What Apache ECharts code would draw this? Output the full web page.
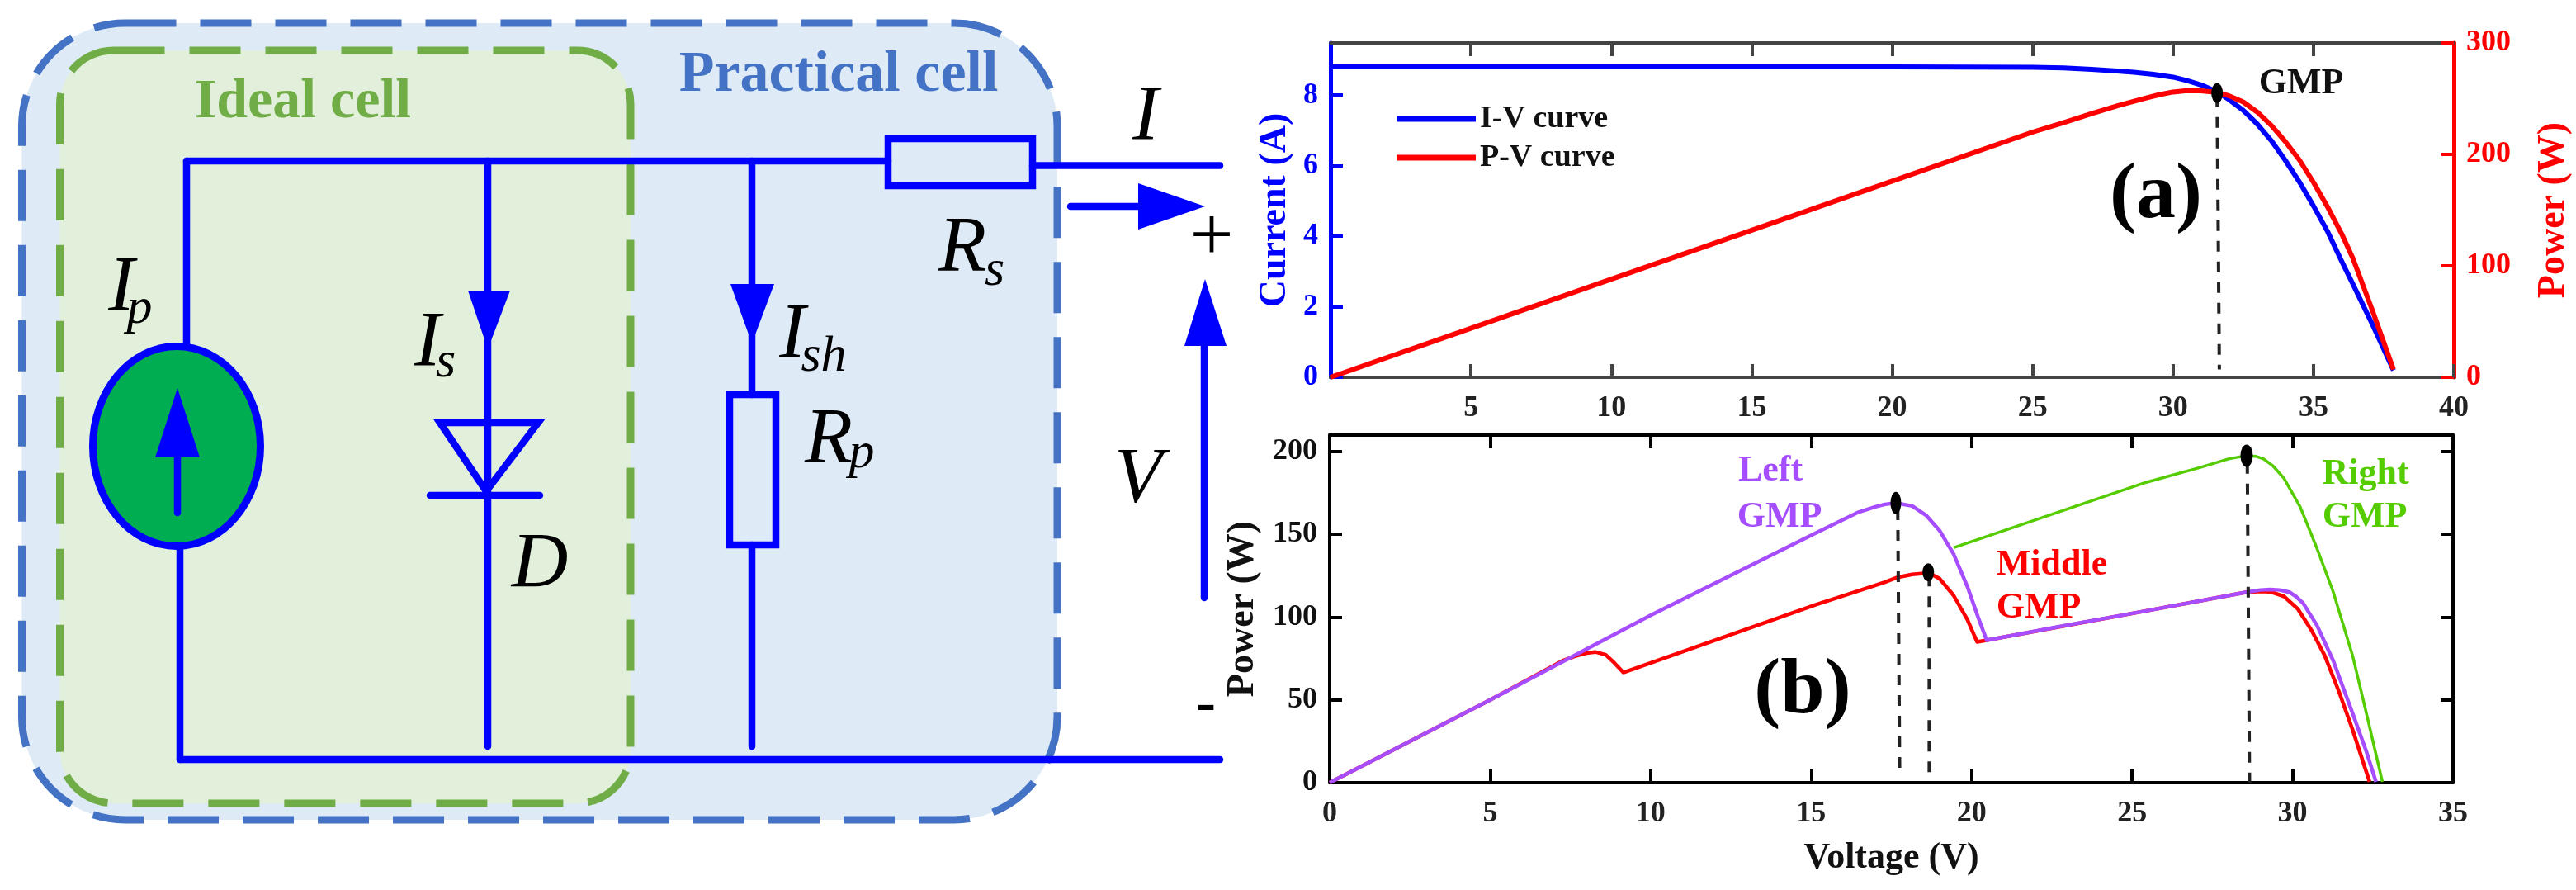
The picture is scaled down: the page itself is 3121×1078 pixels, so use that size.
<!DOCTYPE html>
<html><head><meta charset="utf-8">
<style>html,body{margin:0;padding:0;background:#fff}#c{width:3121px;height:1078px}</style>
<script src="https://cdn.jsdelivr.net/npm/echarts@6/dist/echarts.min.js"></script>
</head><body><div id="c"></div>
<script>
// ---------- data ----------
const xTicksA = [5, 10, 15, 20, 25, 30, 35, 40];
const currentTicks = [0, 2, 4, 6, 8];
const powerTicksA = [0, 100, 200, 300];
const xTicksB = [0, 5, 10, 15, 20, 25, 30, 35];
const powerTicksB = [0, 50, 100, 150, 200];

const ivVoltage = [0, 10, 20, 25, 26.1, 27.1, 27.9, 28.6, 29.3, 30, 30.5, 31, 31.6, 32, 32.5, 33, 33.5, 34, 34.5, 35, 35.5, 36, 36.4, 37.1, 37.85];
const ivCurrent = [8.8, 8.8, 8.8, 8.79, 8.77, 8.73, 8.69, 8.65, 8.59, 8.51, 8.41, 8.29, 8.08, 7.87, 7.57, 7.18, 6.71, 6.15, 5.54, 4.86, 4.14, 3.3, 2.65, 1.5, 0.2];
const pvVoltage = [0, 5, 10, 15, 20, 25, 26.1, 27.1, 28.07, 29.05, 29.5, 30, 30.5, 31, 31.6, 32, 32.5, 33, 33.5, 34, 34.5, 35, 35.5, 36, 36.4, 37.1, 37.85];
const pvPower = [0, 44, 88, 132, 176, 220, 228.5, 236.5, 244, 250.6, 253.5, 256, 257.3, 257, 255.5, 252.5, 247, 238, 226, 211.5, 195, 175, 153, 129, 107, 60, 7];
const gmpA = [31.57, 255];
const gmpDropA = [[31.57, 252], [31.65, 7]];

const leftV = [0, 5, 10, 15.15, 16.44, 17, 17.3, 17.64, 18.15, 18.58, 19, 19.44, 19.87, 20.2, 20.47, 22.87, 25.44, 28.57, 29, 29.3, 29.6, 29.9, 30.1, 30.33, 30.76, 31.27, 31.87, 32.3, 32.6];
const leftP = [0, 50, 101, 150.8, 163, 166.5, 168, 168.8, 167, 161.4, 152.3, 138, 118.3, 100, 86, 94.7, 103.7, 115, 116.3, 116.6, 116.3, 115, 112.5, 108.3, 95, 73.5, 42, 18.8, 0.5];
const midV = [0, 5, 7.3, 7.66, 8, 8.28, 8.6, 8.87, 9.15, 15.15, 16.44, 17.3, 17.7, 18.15, 18.67, 19, 19.44, 19.87, 20.17, 20.47, 25.44, 28.57, 29, 29.3, 29.73, 30.16, 30.6, 31, 31.44, 31.87, 32.4];
const midP = [0, 50, 74, 76.4, 78.2, 78.9, 77.2, 72.3, 66.5, 107.5, 115.5, 121, 124, 125.7, 126.6, 123.2, 113, 98.4, 85, 86, 103.7, 115, 115.5, 115.3, 112.5, 105, 91.7, 76.8, 55.3, 32, 0.5];
const rightV = [19.44, 25.44, 27.15, 28, 28.57, 28.85, 29.1, 29.4, 29.73, 30.24, 30.76, 31.27, 31.87, 32.3, 32.8];
const rightP = [141.8, 181.3, 190.4, 195.4, 197.4, 197, 195.4, 191, 183.8, 166.4, 141.5, 115, 76.8, 42, 0.5];
const gmpLeft = [17.64, 168.8];
const gmpMiddle = [18.65, 127];
const gmpRight = [28.57, 197.4];
const dropLeft = [[17.7, 165], [17.76, 3]];
const dropMiddle = [[18.68, 125], [18.68, 3]];
const dropRight = [[28.59, 193], [28.66, -1]];

// ---------- styling ----------
const SERIF = '"Liberation Serif","Times New Roman",serif';
const WIRE = '#0000ff', DARK = '#444444', BLACK = '#000000', RED = '#ff0000';
const PURPLE = '#a64dff', GREEN = '#55cc00';
const zip = (a, b) => a.map((v, i) => [v, b[i]]);

function xAxis(grid, pos, max, ticks, color, showLabels) {
  return {
    type: 'value', gridIndex: grid, position: pos, min: 0, max,
    axisLine: { onZero: false, lineStyle: { color, width: 4 } },
    axisTick: { inside: true, length: 16, customValues: ticks, lineStyle: { color, width: 4 } },
    axisLabel: showLabels
      ? { customValues: ticks, margin: 20, fontFamily: SERIF, fontWeight: 'bold', fontSize: 36, color: '#222' }
      : { show: false },
    splitLine: { show: false }
  };
}
function yAxis(grid, pos, max, ticks, color, showLabels, width, labelColor) {
  return {
    type: 'value', gridIndex: grid, position: pos, min: 0, max,
    axisLine: { show: true, onZero: false, lineStyle: { color, width } },
    axisTick: { show: true, inside: true, length: 15, customValues: ticks, lineStyle: { color, width: 4 } },
    axisLabel: showLabels
      ? { customValues: ticks, margin: 15, fontFamily: SERIF, fontWeight: 'bold', fontSize: 36, color: labelColor || color }
      : { show: false },
    splitLine: { show: false }
  };
}
const nameStyle = (color) => ({ fontFamily: SERIF, fontWeight: 'bold', fontSize: 46, color });

const axisCur = yAxis(0, 'left', 9.48, currentTicks, WIRE, true, 5);
Object.assign(axisCur, { name: 'Current (A)', nameLocation: 'middle', nameRotate: 90, nameGap: 44, nameTextStyle: nameStyle(WIRE) });
const axisPow = yAxis(0, 'right', 300, powerTicksA, RED, true, 5);
Object.assign(axisPow, { name: 'Power (W)', nameLocation: 'middle', nameRotate: 90, nameGap: 98, nameTextStyle: nameStyle(RED) });
const axisPowB = yAxis(1, 'left', 209.8, powerTicksB, BLACK, true, 4, '#111');
Object.assign(axisPowB, { name: 'Power (W)', nameLocation: 'middle', nameRotate: 90, nameGap: 82, nameTextStyle: nameStyle('#111') });
const axisVoltB = xAxis(1, 'bottom', 35, xTicksB, BLACK, true);
Object.assign(axisVoltB, { name: 'Voltage (V)', nameLocation: 'middle', nameGap: 70, nameTextStyle: Object.assign(nameStyle('#111'), { fontSize: 44 }) });

function curve(name, x, y, color, width, xi, yi) {
  return { type: 'line', name, data: zip(x, y), xAxisIndex: xi, yAxisIndex: yi, showSymbol: false, symbol: 'none',
    smooth: false, lineStyle: { color, width, join: 'round' }, itemStyle: { color }, z: 3, silent: true };
}
function drop(points, xi, yi) {
  return { type: 'line', data: points, xAxisIndex: xi, yAxisIndex: yi, symbol: 'none', z: 4, silent: true,
    lineStyle: { color: '#222', width: 4, type: [13, 12] } };
}
function marker(point, size, xi, yi) {
  return { type: 'scatter', data: [point], xAxisIndex: xi, yAxisIndex: yi, symbol: 'circle', symbolSize: size,
    itemStyle: { color: '#000', opacity: 1 }, z: 6, silent: true };
}

// ---------- circuit diagram and free text ----------
const seg = (x1, y1, x2, y2, w) => ({ type: 'line', z: 5, shape: { x1, y1, x2, y2 }, style: { stroke: WIRE, lineWidth: w || 8.5, lineCap: 'round' } });
const tri = (points) => ({ type: 'polygon', z: 6, shape: { points }, style: { fill: WIRE } });
const box = (x, y, width, height) => ({ type: 'rect', z: 5, shape: { x, y, width, height }, style: { fill: 'none', stroke: WIRE, lineWidth: 8.5 } });
const txt = (x, y, text, size, fill, bold, italic) => ({ type: 'text', z: 8, x, y, style: {
  text, fill, align: 'center', verticalAlign: 'middle', fontFamily: SERIF, fontSize: size,
  fontWeight: bold ? 'bold' : 'normal', fontStyle: italic ? 'italic' : 'normal' } });
const it = (x, y, text, size) => txt(x, y, text, size || 95, '#000', false, true);

const graphic = [
  { type: 'rect', z: 1, shape: { x: 26.5, y: 28, width: 1254.5, height: 965, r: 125 }, style: { fill: '#deeaf6', stroke: '#4472c4', lineWidth: 9, lineDash: [62, 29] } },
  { type: 'rect', z: 2, shape: { x: 72.5, y: 61, width: 691.5, height: 912, r: 65 }, style: { fill: '#e2efda', stroke: '#70ad47', lineWidth: 9, lineDash: [62, 30] } },
  txt(367, 124, 'Ideal cell', 68, '#70ad47', true),
  txt(1016, 92, 'Practical cell', 70, '#4472c4', true),
  seg(226, 195, 1076, 195),
  seg(1251, 200.5, 1478, 200.5),
  seg(226, 195, 226, 417),
  seg(218, 663, 218, 920),
  seg(218, 920, 1478, 920),
  box(1076, 168, 175, 57),
  { type: 'ellipse', z: 5, shape: { cx: 214, cy: 540.5, rx: 101.5, ry: 121 }, style: { fill: '#00ad50', stroke: WIRE, lineWidth: 9 } },
  seg(215, 621, 215, 550),
  tri([[215, 470], [188, 554], [242, 554]]),
  seg(591, 195, 591, 904),
  tri([[591, 423], [567, 352], [618, 352]]),
  { type: 'polygon', z: 5, shape: { points: [[533, 512], [652, 512], [589, 595]] }, style: { fill: 'none', stroke: WIRE, lineWidth: 8.5 } },
  seg(521, 600, 654, 600),
  seg(911, 195, 911, 478),
  seg(911, 660, 911, 904),
  tri([[911, 416], [885, 344], [938, 344]]),
  box(884, 478, 56, 182),
  seg(1297, 250, 1385, 250),
  tri([[1460, 250], [1379, 222], [1379, 278]]),
  seg(1459, 724, 1459, 415),
  tri([[1460, 338], [1435, 419], [1486, 419]]),
  txt(1468, 290, '+', 94, '#000', false),
  txt(1461, 855, '-', 72, '#000', true),
  it(147, 351, 'I'), it(169, 375, 'p', 62),
  it(518, 418, 'I'), it(540, 440, 's', 62),
  it(960, 408, 'I'), it(998, 433, 'sh', 62),
  it(1166, 303, 'R'), it(1205, 329, 's', 62),
  it(1004, 535, 'R'), it(1044, 550, 'p', 62),
  it(1379, 583, 'V'), it(654, 686, 'D'), it(1388, 144, 'I'),
  txt(2788, 102, 'GMP', 44, '#111', true),
  txt(2612, 238, '(a)', 96, '#000', true),
  txt(2184, 838, '(b)', 96, '#000', true),
  txt(2145, 571, 'Left', 44, PURPLE, true),
  txt(2156, 627, 'GMP', 44, PURPLE, true),
  txt(2486, 685, 'Middle', 44, RED, true),
  txt(2470, 737, 'GMP', 44, RED, true),
  txt(2866, 575, 'Right', 44, GREEN, true),
  txt(2865, 627, 'GMP', 44, GREEN, true)
];

const chart = echarts.init(document.getElementById('c'), null, { renderer: 'canvas' });
chart.setOption({
  animation: false,
  backgroundColor: '#ffffff',
  grid: [
    { left: 1612, top: 52, width: 1361, height: 405, containLabel: false },
    { left: 1611, top: 527, width: 1361, height: 421, containLabel: false }
  ],
  legend: {
    orient: 'vertical', left: 1692, top: 125, itemWidth: 96, itemHeight: 7, itemGap: 9,
    icon: 'rect', padding: 0, selectedMode: false, data: ['I-V curve', 'P-V curve'],
    textStyle: { fontFamily: SERIF, fontWeight: 'bold', fontSize: 38, color: '#111', lineHeight: 38 }
  },
  xAxis: [
    xAxis(0, 'bottom', 40, xTicksA, DARK, true),
    xAxis(0, 'top', 40, xTicksA.slice(0, -1), DARK, false),
    axisVoltB,
    xAxis(1, 'top', 35, xTicksB.slice(1, -1), BLACK, false)
  ],
  yAxis: [
    axisCur,
    axisPow,
    axisPowB,
    yAxis(1, 'right', 209.8, powerTicksB, BLACK, false, 4)
  ],
  series: [
    curve('I-V curve', ivVoltage, ivCurrent, WIRE, 6, 0, 0),
    curve('P-V curve', pvVoltage, pvPower, RED, 6, 0, 1),
    drop(gmpDropA, 0, 1),
    marker(gmpA, [14, 24], 0, 1),
    curve('Middle', midV, midP, RED, 4.5, 2, 2),
    curve('Right', rightV, rightP, GREEN, 3.5, 2, 2),
    curve('Left', leftV, leftP, PURPLE, 4.5, 2, 2),
    drop(dropLeft, 2, 2),
    drop(dropMiddle, 2, 2),
    drop(dropRight, 2, 2),
    marker(gmpLeft, [13, 27], 2, 2),
    marker(gmpMiddle, [14, 22], 2, 2),
    marker(gmpRight, [15, 27], 2, 2)
  ],
  graphic
});
</script></body></html>
